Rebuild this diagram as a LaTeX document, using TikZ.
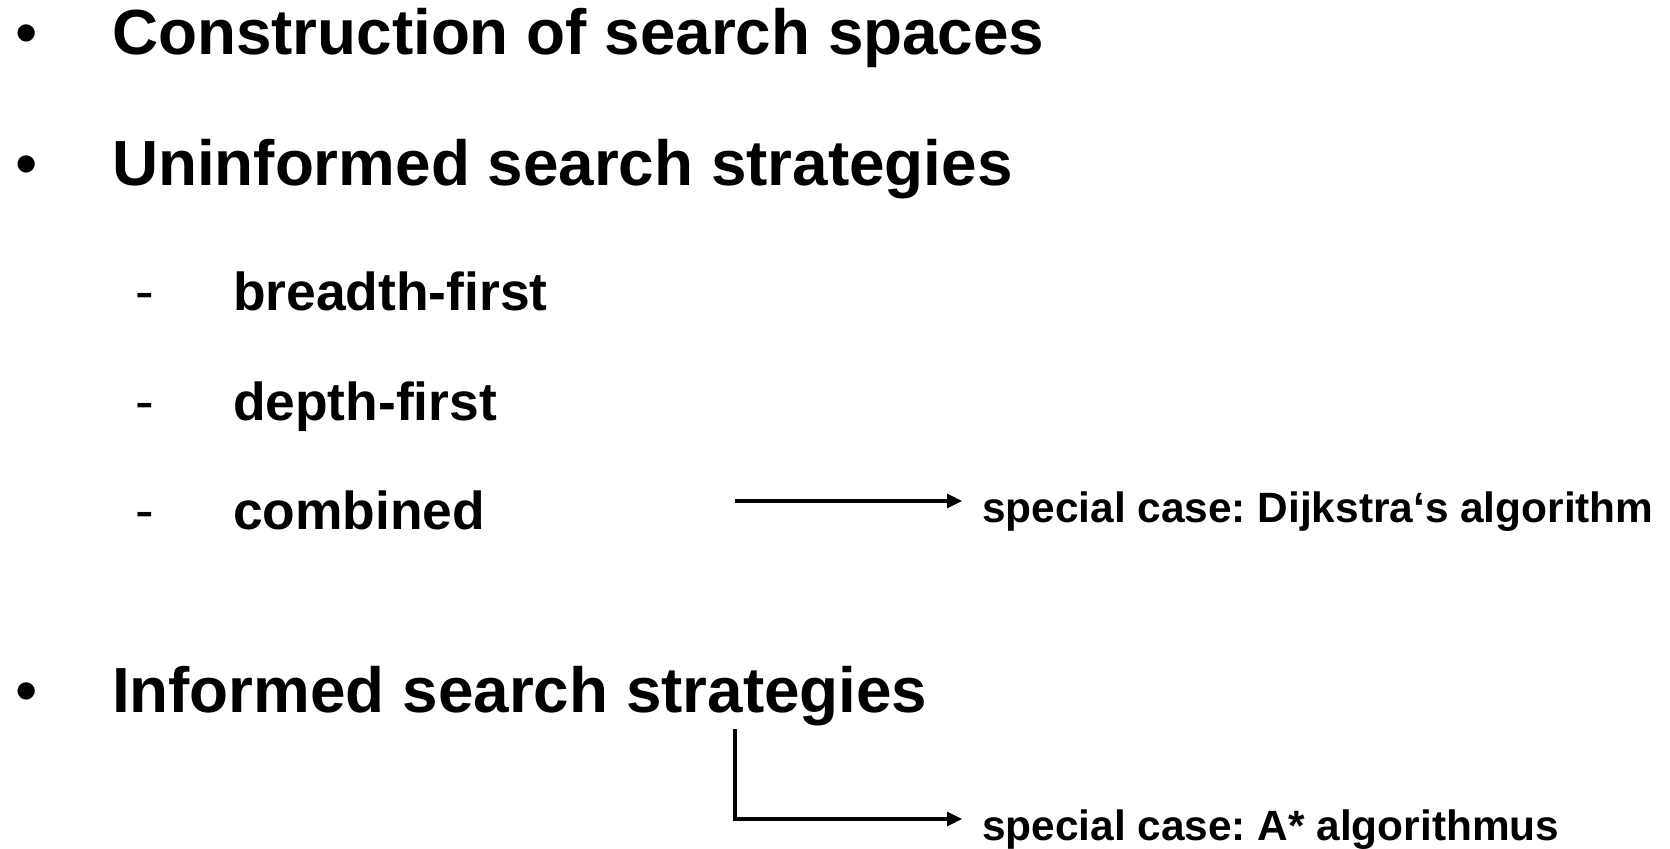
\documentclass[tikz,border=0pt]{standalone}
\usepackage{fontspec}
\setmainfont{Liberation Sans}
\usetikzlibrary{arrows.meta}
\frenchspacing
\begin{document}
\begin{tikzpicture}[x=0.5pt,y=-0.5pt,
  txt/.style={anchor=base west,inner sep=0pt,outer sep=0pt},
  bulletmark/.style={txt,font=\fontsize{31.8}{36}\selectfont},
  headline/.style={txt,font=\fontsize{31.9}{36}\selectfont\bfseries},
  dashmark/.style={txt,font=\fontsize{28}{32}\selectfont},
  subline/.style={txt,font=\fontsize{26.7}{30}\selectfont\bfseries},
  notetext/.style={txt,font=\fontsize{21.2}{25}\selectfont\bfseries},
  link/.style={line width=1.6pt,-{Triangle[length=7.5pt,width=7pt]}}]
\useasboundingbox (0,0) rectangle (1670,849);

% top-level items
\node[bulletmark] (b1) at (15.5,55) {•};
\node[headline] (h1) at (112,55) {Construction of search spaces};
\node[bulletmark] (b2) at (15.5,186) {•};
\node[headline] (h2) at (112,186) {Uninformed search strategies};
\node[bulletmark] (b3) at (15.5,712) {•};
\node[headline] (h3) at (112,712) {Informed search strategies};

% sub-items
\node[dashmark] (d1) at (135.5,311) {-};
\node[subline] (s1) at (233,311) {breadth-first};
\node[dashmark] (d2) at (135.5,421) {-};
\node[subline] (s2) at (233,421) {depth-first};
\node[dashmark] (d3) at (135.5,530) {-};
\node[subline] (s3) at (233,530) {combined};

% notes
\node[notetext] (dij) at (982,523) {special case: Dijkstra‘s algorithm};
\node[notetext] (astar) at (982,840) {special case: A* algorithmus};

% connectors
\coordinate (a1s) at (735,501);
\coordinate (a1e) at (962,501);
\draw[link] (a1s) -- (a1e);
\coordinate (a2s) at (735,729);
\coordinate (a2c) at (735,819);
\coordinate (a2e) at (962,819);
\draw[link] (a2s) -- (a2c) -- (a2e);
\end{tikzpicture}
\end{document}
